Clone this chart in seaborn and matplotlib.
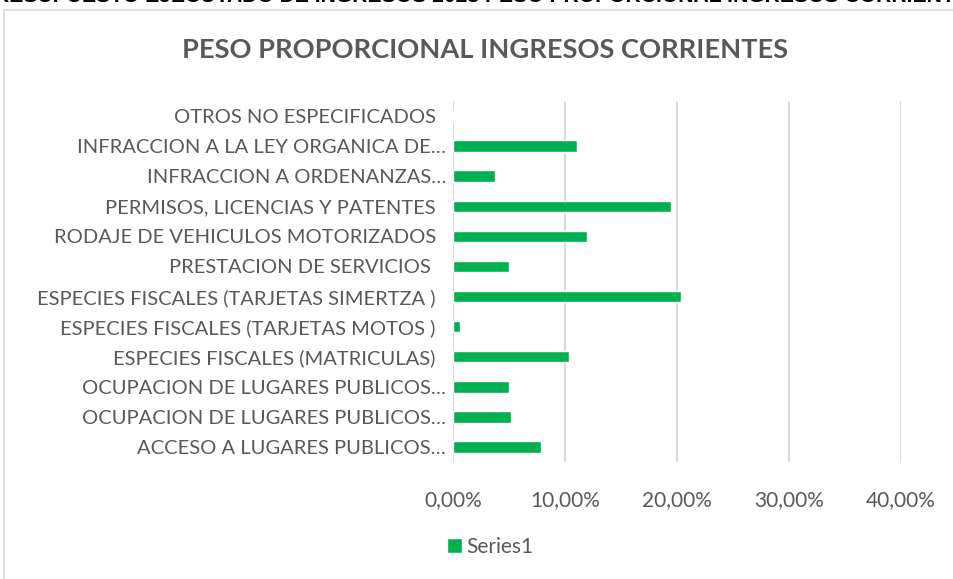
import numpy as np
import pandas as pd
import matplotlib

matplotlib.use("Agg")
import matplotlib.pyplot as plt
import seaborn as sns
from matplotlib.patches import Patch, Rectangle
from matplotlib.ticker import FuncFormatter

sns.set_style("white")
plt.rcParams["font.family"] = ["Lato", "DejaVu Sans"]

# categories, top to bottom as in the chart
CATEGORIES = [
    "OTROS NO ESPECIFICADOS  ",
    "INFRACCION A LA LEY ORGANICA DE…",
    "INFRACCION A ORDENANZAS…",
    "PERMISOS, LICENCIAS Y PATENTES  ",
    "RODAJE DE VEHICULOS MOTORIZADOS  ",
    "PRESTACION DE SERVICIOS   ",
    "ESPECIES FISCALES (TARJETAS SIMERTZA )  ",
    "ESPECIES FISCALES (TARJETAS MOTOS )  ",
    "ESPECIES FISCALES (MATRICULAS)  ",
    "OCUPACION DE LUGARES PUBLICOS…",
    "OCUPACION DE LUGARES PUBLICOS…",
    "ACCESO A LUGARES PUBLICOS…",
]
SHARE = [0.0, 0.1107, 0.0372, 0.1950, 0.1196, 0.0503,
         0.2036, 0.0060, 0.1040, 0.0500, 0.0518, 0.0786]
XTICKS = [0.0, 0.1, 0.2, 0.3, 0.4]

GREEN = "#00B050"
GREY_TXT = "#595959"
GRID = "#D9D9D9"

df = pd.DataFrame({"cat": range(len(CATEGORIES)), "share": SHARE})

fig = plt.figure(figsize=(9.54, 5.79), dpi=100)
ax = fig.add_axes([453 / 954, 1 - 462 / 579, 448 / 954, 361 / 579])

sns.barplot(data=df, x="share", y="cat", orient="h", color=GREEN,
            width=0.38, saturation=1, ax=ax)

ax.set_xlim(0, 0.4)
ax.set_ylim(len(CATEGORIES) - 0.5, -0.5)
ax.set_xticks(XTICKS)
ax.xaxis.set_major_formatter(FuncFormatter(
    lambda v, _: f"{v * 100:.2f}%".replace(".", ",")))
ax.set_yticks(range(len(CATEGORIES)))
ax.set_yticklabels(CATEGORIES)
ax.tick_params(axis="both", length=0, labelcolor=GREY_TXT)
ax.tick_params(axis="y", labelsize=14.5, pad=5)
ax.tick_params(axis="x", labelsize=15, pad=20)
ax.set_xlabel("")
ax.set_ylabel("")
for s in ax.spines.values():
    s.set_visible(False)
ax.grid(axis="x", color=GRID, linewidth=1.5)
ax.set_axisbelow(True)

# chart frame
fig.patches.append(Rectangle((4 / 954, -0.05), 1.1, 1 - 10 / 579 + 0.05,
                             transform=fig.transFigure, fill=False,
                             edgecolor=GRID, linewidth=1.2))

fig.text(0.508, 1 - 50 / 579, "PESO PROPORCIONAL INGRESOS CORRIENTES",
         ha="center", va="center", fontsize=19.6, fontweight="bold",
         color=GREY_TXT)

# heading of the page, cut at the top like in the source image
fig.text(0.505, 1 + 3 / 579,
         "PRESUPUESTO EJECUTADO DE INGRESOS 2023 PESO PROPORCIONAL INGRESOS CORRIENTES",
         ha="center", va="center", fontsize=15.2, fontweight="bold",
         color="black", family=["Liberation Sans", "DejaVu Sans"])

fig.legend(handles=[Patch(facecolor=GREEN, label="Series1")],
           loc="center", bbox_to_anchor=(490 / 954, 1 - 547 / 579),
           frameon=False, fontsize=15, labelcolor=GREY_TXT,
           handlelength=0.75, handleheight=0.75, handletextpad=0.2)

fig.savefig("out.png", dpi=100)
